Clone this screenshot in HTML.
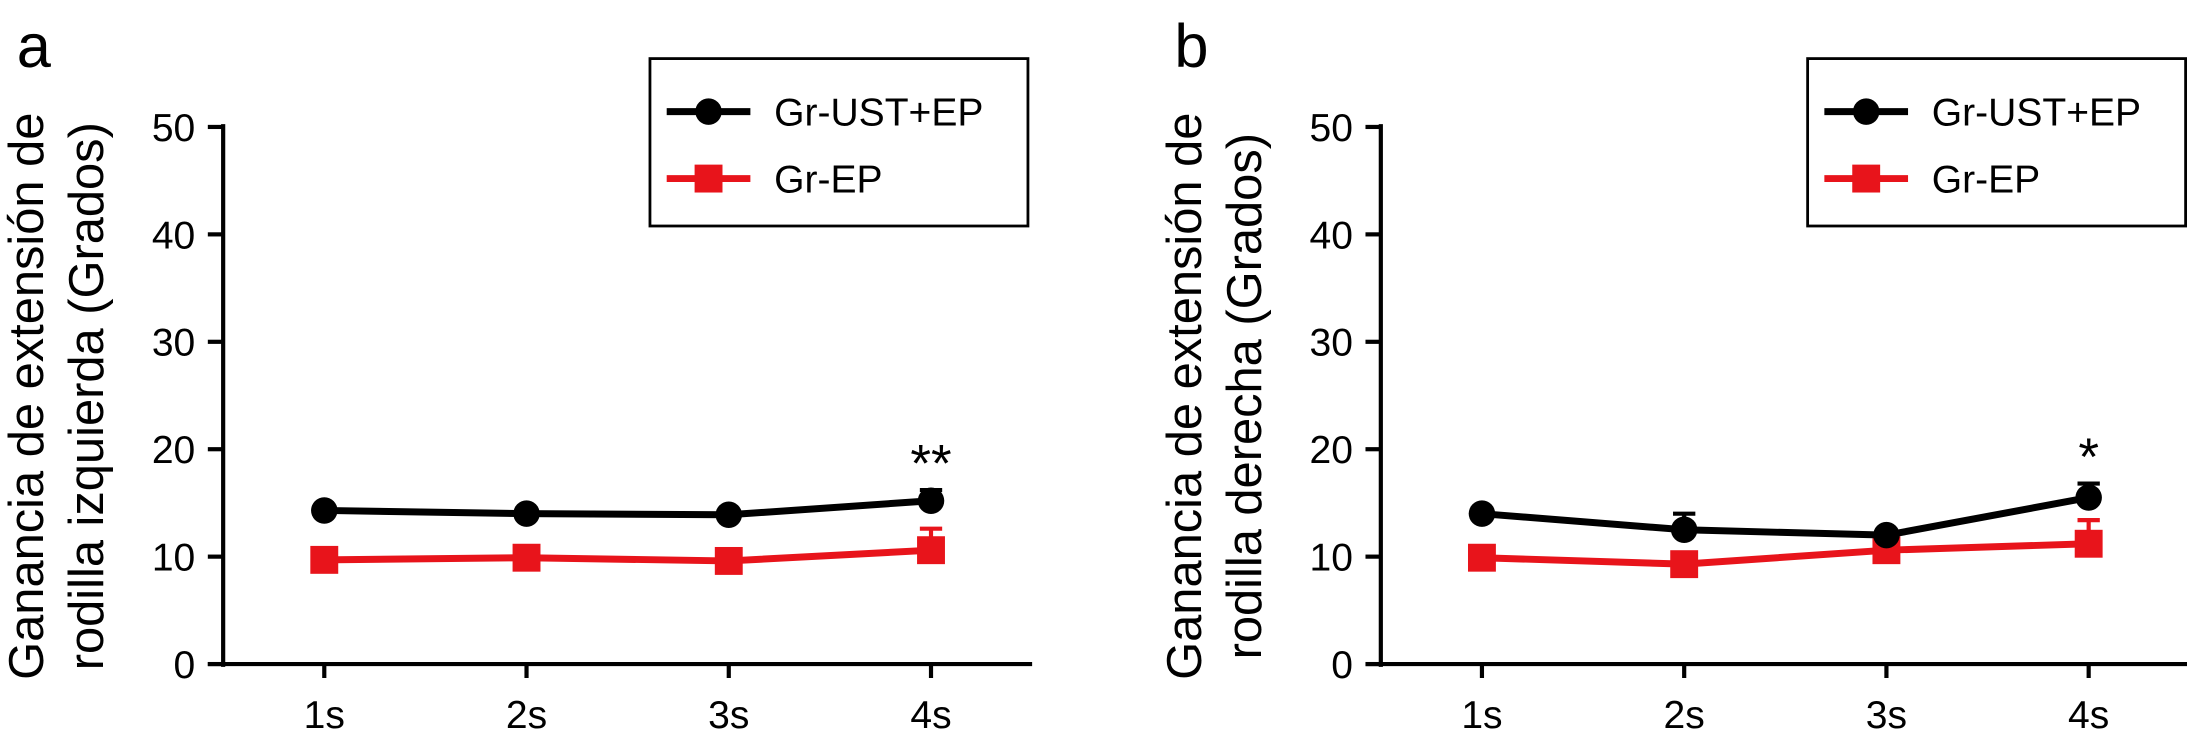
<!DOCTYPE html>
<html><head><meta charset="utf-8"><style>
body{margin:0;background:#fff;}
svg{display:block;font-family:"Liberation Sans",Arial,sans-serif;}
</style></head><body>
<svg id="chart" width="2187" height="738" viewBox="0 0 1568 529" preserveAspectRatio="none" xmlns="http://www.w3.org/2000/svg"></svg>
<script>
const categories = ["1s","2s","3s","4s"];
const yTicks = [0,10,20,30,40,50];
const aBlack = [14.3, 14.0, 13.9, 15.2];
const aBlackErr = [0.4, 0.4, 0.4, 1.0];
const aRed = [9.7, 9.9, 9.6, 10.6];
const aRedErr = [0.4, 0.4, 0.6, 2.0];
const bBlack = [14.0, 12.5, 12.0, 15.5];
const bBlackErr = [0.3, 1.5, 0.3, 1.3];
const bRed = [9.9, 9.3, 10.6, 11.2];
const bRedErr = [0.3, 0.4, 0.8, 2.2];
const aStars = ["", "", "", "**"];
const bStars = ["", "", "", "*"];
const legendLabels = ["Gr-UST+EP","Gr-EP"];

const svg = document.getElementById('chart');
const NS = "http://www.w3.org/2000/svg";
function mk(tag, attrs, parent){const e=document.createElementNS(NS,tag);for(const k in attrs)e.setAttribute(k,attrs[k]);(parent||svg).appendChild(e);return e;}

function panel(ox, letter, title1, title2, black, blackErr, red, redErr, stars){
  const g = mk('g',{});
  
  
  const axX = ox, y0 = 476, unit = 7.7, spacing = 145;
  const xs = i => axX + spacing/2 + i*spacing;
  const ys = v => y0 - v*unit;
  const pl = mk('text',{x:ox-148,y:48,'font-size':44},g); pl.textContent=letter;
   
  const ya = mk('line',{x1:axX,y1:ys(50)-2,x2:axX,y2:y0+2,stroke:'#000','stroke-width':3},g);
   
  const xa = mk('line',{x1:axX-11,y1:y0,x2:axX+spacing*4,y2:y0,stroke:'#000','stroke-width':3},g);
   
  yTicks.forEach(t=>{
    mk('line',{x1:axX-11,y1:ys(t),x2:axX,y2:ys(t),stroke:'#000','stroke-width':3},g);
    const tl = mk('text',{x:axX-20,y:ys(t)+10,'font-size':28,'text-anchor':'end'},g); tl.textContent=t;
     
  });
  categories.forEach((c,i)=>{
    mk('line',{x1:xs(i),y1:y0,x2:xs(i),y2:y0+10,stroke:'#000','stroke-width':3},g);
    const tl = mk('text',{x:xs(i),y:522,'font-size':28,'text-anchor':'middle'},g); tl.textContent=c;
     
  });
  const t = mk('text',{transform:`translate(${ox-129},284) rotate(-90)`,'font-size':35,'text-anchor':'middle'},g);
   
  const t1 = mk('tspan',{x:0,y:0},t); t1.textContent=title1;
  const t2 = mk('tspan',{x:0,y:43},t); t2.textContent=title2;
  function series(vals, errs, color, shape, name){
    const sg = mk('g',{},g);
     
    vals.forEach((v,i)=>{
      const top = ys(v+errs[i]);
      mk('line',{x1:xs(i),y1:ys(v),x2:xs(i),y2:top,stroke:color,'stroke-width':3},sg);
      mk('line',{x1:xs(i)-8,y1:top,x2:xs(i)+8,y2:top,stroke:color,'stroke-width':3},sg);
    });
    mk('polyline',{points:vals.map((v,i)=>xs(i)+','+ys(v)).join(' '),fill:'none',stroke:color,'stroke-width':5},sg);
    vals.forEach((v,i)=>{
      let m;
      if(shape==='c') m = mk('circle',{cx:xs(i),cy:ys(v),r:9.5,fill:color},sg);
      else m = mk('rect',{x:xs(i)-10,y:ys(v)-10,width:20,height:20,fill:color},sg);
      
      
    });
  }
  series(red, redErr, '#e8141b', 's', 'gr-ep');
  series(black, blackErr, '#000', 'c', 'gr-ust-ep');
  stars.forEach((s,i)=>{ if(!s) return;
    const st = mk('text',{x:xs(i),y:ys(black[i]+blackErr[i])-6,'font-size':38,'text-anchor':'middle'},g); st.textContent=s;
     
  });
  const lg = mk('g',{},g);
   
  mk('rect',{x:ox+306,y:42,width:271,height:120,fill:'#fff',stroke:'#000','stroke-width':2},lg);
  const cols=['#000','#e8141b'];
  legendLabels.forEach((l,k)=>{
    const y = 80+k*48, lx = ox+318;
    mk('line',{x1:lx,y1:y,x2:lx+60,y2:y,stroke:cols[k],'stroke-width':5},lg);
    if(k===0) mk('circle',{cx:lx+30,cy:y,r:9.5,fill:cols[k]},lg);
    else mk('rect',{x:lx+20,y:y-10,width:20,height:20,fill:cols[k]},lg);
    const lt = mk('text',{x:lx+77,y:y+10,'font-size':28},lg); lt.textContent=l;
     
  });
}
panel(160,'a','Ganancia de extensión de','rodilla izquierda (Grados)',aBlack,aBlackErr,aRed,aRedErr,aStars);
panel(990,'b','Ganancia de extensión de','rodilla derecha (Grados)',bBlack,bBlackErr,bRed,bRedErr,bStars);
</script>
</body></html>
